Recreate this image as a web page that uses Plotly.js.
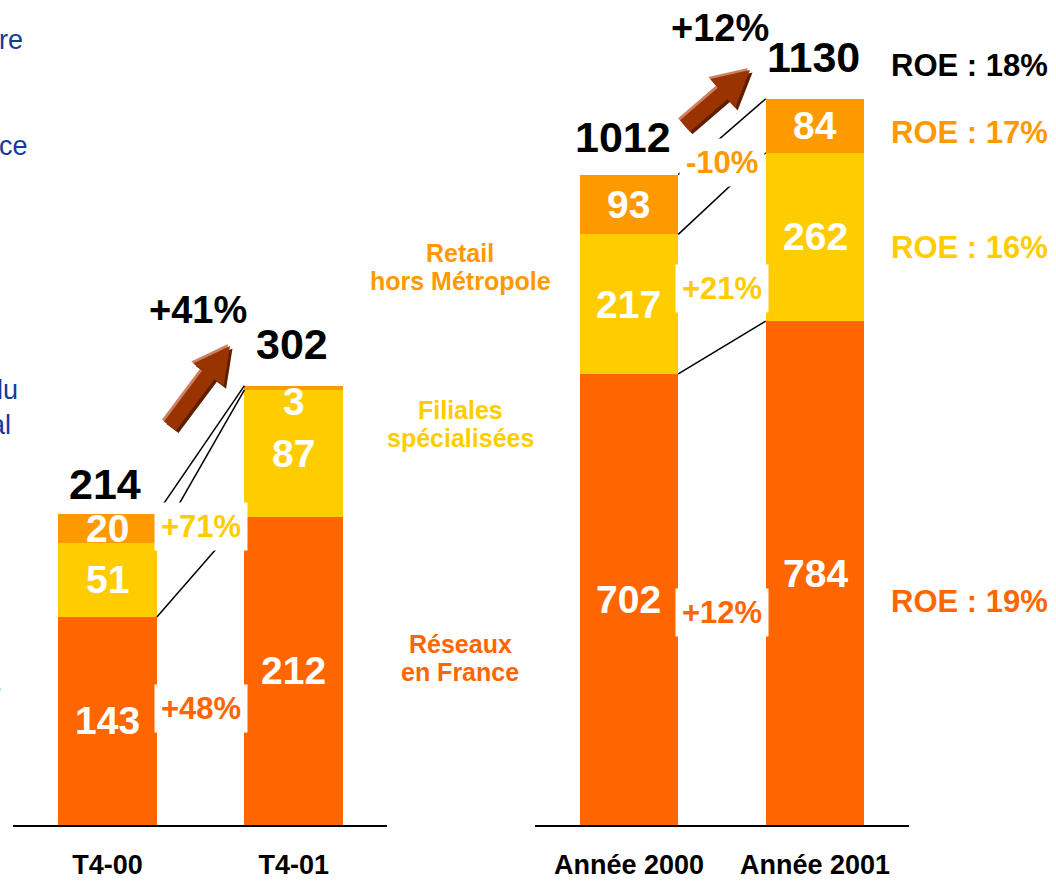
<!DOCTYPE html>
<html>
<head>
<meta charset="utf-8">
<script src="https://cdn.plot.ly/plotly-3.0.1.min.js"></script>
<style>html,body{margin:0;padding:0;background:#fff;}#chart{width:1056px;height:885px;}</style>
</head>
<body>
<div id="chart"></div>
<script>
// ---- data ----
const categoriesQ = ['T4-00', 'T4-01'];
const categoriesY = ['Année 2000', 'Année 2001'];
const seriesNames = ['Réseaux<br>en France', 'Filiales<br>spécialisées', 'Retail<br>hors Métropole'];
const reseauxQ = [143, 212];
const filialesQ = [51, 87];
const retailQ = [20, 3];
const reseauxY = [702, 784];
const filialesY = [217, 262];
const retailY = [93, 84];
const growthQ = ['+48%', '+71%', ''];      // réseaux, filiales, retail
const growthY = ['+12%', '+21%', '-10%'];
const totalGrowthQ = '+41%';
const totalGrowthY = '+12%';
const roeLabels = ['ROE : 18%', 'ROE : 17%', 'ROE : 16%', 'ROE : 19%'];
const sideFragments = ['re', 'ce', 'du', 'al', '.'];

// ---- style ----
const C_RES = '#FF6600', C_FIL = '#FFCC00', C_RET = '#FF9900';
const FONT = 'Arial, "Liberation Sans", sans-serif';
const BARW = 0.53;
const W = 1056, PH = 825;
const px = (x) => x / W;
const py = (y) => (PH - y) / PH;

const sum3 = (a, b, c) => a.map((v, i) => v + b[i] + c[i]);
const totalsQ = sum3(reseauxQ, filialesQ, retailQ);
const totalsY = sum3(reseauxY, filialesY, retailY);

function bars(xs, vals, color, xa, ya) {
  return {type: 'bar', x: xs, y: vals, marker: {color: color, line: {width: 0}},
          width: BARW, xaxis: xa, yaxis: ya, hoverinfo: 'skip', showlegend: false};
}
const data = [
  bars(categoriesQ, reseauxQ, C_RES, 'x', 'y'),
  bars(categoriesQ, filialesQ, C_FIL, 'x', 'y'),
  bars(categoriesQ, retailQ, C_RET, 'x', 'y'),
  bars(categoriesY, reseauxY, C_RES, 'x2', 'y2'),
  bars(categoriesY, filialesY, C_FIL, 'x2', 'y2'),
  bars(categoriesY, retailY, C_RET, 'x2', 'y2')
];

const annotations = [];
const shapes = [];
function ann(o) {
  annotations.push(Object.assign({showarrow: false, xanchor: 'center', yanchor: 'middle'}, o));
}

// values inside segments
function segLabels(cats, stacks, xr, yr) {
  cats.forEach((c, i) => {
    let base = 0;
    stacks.forEach((s) => {
      const v = s[i];
      const tiny = v < 10;
      ann({xref: xr, yref: yr, x: i, y: base + v / 2, text: '<b>' + v + '</b>',
        yshift: tiny ? -14 : 0, font: {family: FONT, size: 39, color: '#ffffff'}});
      base += v;
    });
  });
}
segLabels(categoriesQ, [reseauxQ, filialesQ, retailQ], 'x', 'y');
segLabels(categoriesY, [reseauxY, filialesY, retailY], 'x2', 'y2');

// totals
const totShift = [[4, 16], [12, 16]];
[[totalsQ, 'x', 'y'], [totalsY, 'x2', 'y2']].forEach((t, k) => {
  t[0].forEach((v, i) => {
    ann({xref: t[1], yref: t[2], x: i, y: v, yanchor: 'bottom', yshift: totShift[k][i],
      xshift: (k === 1 && i === 0) ? -6 : -2,
      text: '<b>' + v + '</b>', font: {family: FONT, size: 43, color: '#000'}});
  });
});

// connecting lines between segment tops
function connectors(stacks, xr, yr) {
  let c0 = 0, c1 = 0;
  stacks.forEach((s) => {
    c0 += s[0]; c1 += s[1];
    shapes.push({type: 'line', xref: xr, yref: yr, x0: BARW / 2, x1: 1 - BARW / 2, y0: c0, y1: c1,
      line: {color: '#000', width: 1.5}, layer: 'above'});
  });
}
connectors([reseauxQ, filialesQ, retailQ], 'x', 'y');
connectors([reseauxY, filialesY, retailY], 'x2', 'y2');

// growth labels (white boxes hide the connectors)
function growth(text, color, xr, yr, y) {
  if (!text) return;
  ann({xref: xr, yref: yr, x: 0.5, y: y, text: '<b>' + text + '</b>',
    bgcolor: '#ffffff', borderpad: 6, font: {family: FONT, size: 31, color: color}});
}
growth(growthQ[0], C_RES, 'x', 'y', 80);
growth(growthQ[1], C_FIL, 'x', 'y', 205);
growth(growthY[0], C_RES, 'x2', 'y2', 331);
growth(growthY[1], C_FIL, 'x2', 'y2', 834);
growth(growthY[2], C_RET, 'x2', 'y2', 1030);

// total growth labels
ann({xref: 'paper', yref: 'paper', x: px(198), y: py(310), text: '<b>' + totalGrowthQ + '</b>',
  font: {family: FONT, size: 38, color: '#000'}});
ann({xref: 'paper', yref: 'paper', x: px(720), y: py(28), text: '<b>' + totalGrowthY + '</b>',
  font: {family: FONT, size: 38, color: '#000'}});

// series labels between the panels (one annotation per line)
const serColors = [C_RES, C_FIL, C_RET];
const serY = [658, 424, 267];
seriesNames.forEach((n, i) => {
  const lines = n.split('<br>');
  lines.forEach((ln, j) => {
    ann({xref: 'paper', yref: 'paper', x: px(460), y: py(serY[i] + (j - (lines.length - 1) / 2) * 28),
      text: '<b>' + ln + '</b>', font: {family: FONT, size: 25, color: serColors[i]}});
  });
});

// ROE labels
const roeColors = ['#000000', C_RET, C_FIL, C_RES];
const roeY = [66, 132, 247, 601];
roeLabels.forEach((t, i) => {
  ann({xref: 'paper', yref: 'paper', x: px(889), xanchor: 'left', y: py(roeY[i]),
    text: '<b>' + t + '</b>', font: {family: FONT, size: 31, color: roeColors[i]}});
});

// cut-off text fragments at the left edge
const fragX = [25, 30, 20, 13, 5];
const fragY = [40, 146, 390, 425, 682];
sideFragments.forEach((t, i) => {
  ann({xref: 'paper', yref: 'paper', x: px(fragX[i]), xanchor: 'right', y: py(fragY[i]),
    text: t, font: {family: FONT, size: 27, color: '#17399a'}});
});

// 3D-style arrows
function arrowPts(tail, tip, hw, headHalf, headLen) {
  const dx = tip[0] - tail[0], dy = tip[1] - tail[1];
  const L = Math.hypot(dx, dy);
  const ux = dx / L, uy = dy / L, nx = -uy, ny = ux;
  const bx = tip[0] - ux * headLen, by = tip[1] - uy * headLen;
  return [
    [tail[0] + nx * hw, tail[1] + ny * hw],
    [bx + nx * hw, by + ny * hw],
    [bx + nx * headHalf, by + ny * headHalf],
    tip,
    [bx - nx * headHalf, by - ny * headHalf],
    [bx - nx * hw, by - ny * hw],
    [tail[0] - nx * hw, tail[1] - ny * hw]
  ];
}
function pathOf(pts, ox, oy) {
  return pts.map((p, i) => (i ? 'L' : 'M') + px(p[0] + ox) + ',' + py(p[1] + oy)).join(' ') + ' Z';
}
function arrow(tail, tip) {
  const pts = arrowPts(tail, tip, 7.5, 19, 36);
  shapes.push({type: 'path', xref: 'paper', yref: 'paper', path: pathOf(pts, -2, -2),
    fillcolor: '#CF8060', line: {width: 0}, layer: 'above'});
  shapes.push({type: 'path', xref: 'paper', yref: 'paper', path: pathOf(pts, 2.5, 2.5),
    fillcolor: '#5E1E00', line: {width: 0}, layer: 'above'});
  shapes.push({type: 'path', xref: 'paper', yref: 'paper', path: pathOf(pts, 0, 0),
    fillcolor: '#993300', line: {width: 0}, layer: 'above'});
}
arrow([170, 426], [230, 346]);
arrow([685, 126], [750, 70]);

const xaxisBase = {
  type: 'category', showline: true, linecolor: '#000', linewidth: 2, ticks: '',
  showgrid: false, zeroline: false, fixedrange: true, ticklabelstandoff: 15,
  tickfont: {family: FONT, size: 27, color: '#000', weight: 'bold'}
};
const yaxisBase = {visible: false, showgrid: false, zeroline: false, fixedrange: true, domain: [0, 1]};

const layout = {
  width: 1056, height: 885,
  margin: {l: 0, r: 0, t: 0, b: 60, pad: 0},
  paper_bgcolor: '#fff', plot_bgcolor: '#fff',
  barmode: 'stack', bargap: 0, showlegend: false,
  xaxis: Object.assign({}, xaxisBase, {domain: [px(13), px(387)], range: [-0.507, 1.5], anchor: 'y'}),
  yaxis: Object.assign({}, yaxisBase, {range: [0, 567], anchor: 'x'}),
  xaxis2: Object.assign({}, xaxisBase, {domain: [px(535), px(909)], range: [-0.505, 1.505], anchor: 'y2'}),
  yaxis2: Object.assign({}, yaxisBase, {range: [0, 1283.6], anchor: 'x2'}),
  annotations: annotations,
  shapes: shapes
};

Plotly.newPlot('chart', data, layout, {displayModeBar: false, staticPlot: true});
</script>
</body>
</html>
